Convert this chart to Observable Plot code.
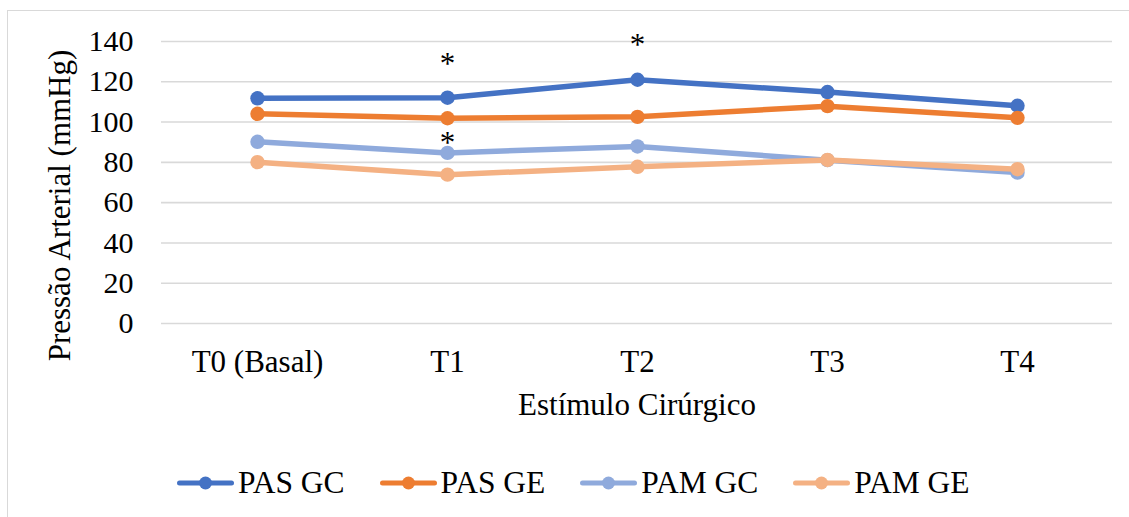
<!DOCTYPE html>
<html><head><meta charset="utf-8">
<script src="https://cdn.jsdelivr.net/npm/d3@7"></script>
<script src="https://cdn.jsdelivr.net/npm/@observablehq/plot@0.6"></script>
<style>
body{margin:0;background:#fff;overflow:hidden;width:1129px;height:517px;font-family:"Liberation Serif","Times New Roman",serif;}
#box{position:absolute;left:7px;top:10px;width:1200px;height:600px;border-left:1px solid #d9d9d9;border-top:1px solid #d9d9d9;}
#chart{position:absolute;left:0;top:0;}
#legend{position:absolute;left:169px;top:452px;height:40px;display:flex;align-items:center;gap:35px;font-size:31.5px;color:#000;white-space:nowrap;}
.item{display:flex;align-items:center;line-height:40px;}
.item svg{margin-right:4px;display:block;}
</style></head><body>
<div id="box"><div id="chart"></div><div id="legend"></div></div>
<script>
const categories = ["T0 (Basal)", "T1", "T2", "T3", "T4"];
const seriesNames = ["PAS GC", "PAS GE", "PAM GC", "PAM GE"];
const pasGC = [111.8, 112.1, 121.0, 114.9, 108.1];
const pasGE = [104.1, 101.9, 102.6, 107.9, 102.1];
const pamGC = [90.2, 84.7, 87.9, 81.1, 74.9];
const pamGE = [80.1, 73.9, 77.8, 81.2, 76.6];
const seriesColors = ["#4472C4", "#ED7D31", "#8FAADC", "#F4B183"];
const yTicks = [0, 20, 40, 60, 80, 100, 120, 140];
const asteriskCats = ["T1", "T2", "T1"];
const asteriskVals = [131.4, 140.5, 92.2];
const yLabel = "Pressão Arterial (mmHg)";
const xLabel = "Estímulo Cirúrgico";

const allSeries = [pasGC, pasGE, pamGC, pamGE];
const rows = [];
allSeries.forEach((vals, s) => vals.forEach((v, i) => rows.push({series: seriesNames[s], cat: categories[i], value: v})));
const asterisks = asteriskCats.map((c, i) => ({cat: c, value: asteriskVals[i]}));

const font = '"Liberation Serif","Times New Roman",serif';
const seriesMarks = [];
seriesNames.forEach((name, s) => {
  const d = rows.filter(r => r.series === name);
  seriesMarks.push(Plot.line(d, {x: "cat", y: "value", stroke: seriesColors[s], strokeWidth: 5.5, strokeLinejoin: "round", strokeLinecap: "round"}));
  seriesMarks.push(Plot.dot(d, {x: "cat", y: "value", r: 7.2, fill: seriesColors[s], stroke: "none"}));
});

const chart = Plot.plot({
  width: 1121,
  height: 430,
  marginLeft: 153,
  marginRight: 17,
  marginTop: 30,
  marginBottom: 118,
  style: {fontFamily: font, fontSize: "31px", color: "#000", background: "transparent", overflow: "visible"},
  x: {type: "point", domain: categories, padding: 0.5, label: null},
  y: {domain: [0, 140], label: null},
  marks: [
    Plot.gridY(yTicks, {stroke: "#d9d9d9", strokeOpacity: 1, strokeWidth: 1.6}),
    Plot.axisY(yTicks, {tickSize: 0, tickPadding: 28, fontSize: 30, label: null, fill: "#000"}),
    Plot.axisX({tickSize: 0, tickPadding: 26, fontSize: 31, label: null, fill: "#000"}),
    ...seriesMarks,
    Plot.text(asterisks, {x: "cat", y: "value", text: () => "*", fontSize: 31, dy: 5, fill: "#000", lineAnchor: "middle"}),
    Plot.text([xLabel], {frameAnchor: "bottom", text: d => d, dy: 82, fontSize: 31, fill: "#000", lineAnchor: "middle"}),
    Plot.text([yLabel], {frameAnchor: "left", text: d => d, rotate: -90, dx: -101, dy: 23, fontSize: 31, fill: "#000", lineAnchor: "middle", textAnchor: "middle"})
  ]
});
document.getElementById("chart").appendChild(chart);

const legend = document.getElementById("legend");
seriesNames.forEach((name, s) => {
  const item = document.createElement("div");
  item.className = "item";
  const ns = "http://www.w3.org/2000/svg";
  const svg = document.createElementNS(ns, "svg");
  svg.setAttribute("width", "57");
  svg.setAttribute("height", "16");
  const line = document.createElementNS(ns, "line");
  line.setAttribute("x1", "2.5"); line.setAttribute("x2", "54.5");
  line.setAttribute("y1", "8"); line.setAttribute("y2", "8");
  line.setAttribute("stroke", seriesColors[s]); line.setAttribute("stroke-width", "5");
  line.setAttribute("stroke-linecap", "round");
  const c = document.createElementNS(ns, "circle");
  c.setAttribute("cx", "28.5"); c.setAttribute("cy", "8"); c.setAttribute("r", "6.5");
  c.setAttribute("fill", seriesColors[s]);
  svg.appendChild(line); svg.appendChild(c);
  const t = document.createElement("span");
  t.textContent = name;
  item.appendChild(svg); item.appendChild(t);
  legend.appendChild(item);
});
</script>
</body></html>
